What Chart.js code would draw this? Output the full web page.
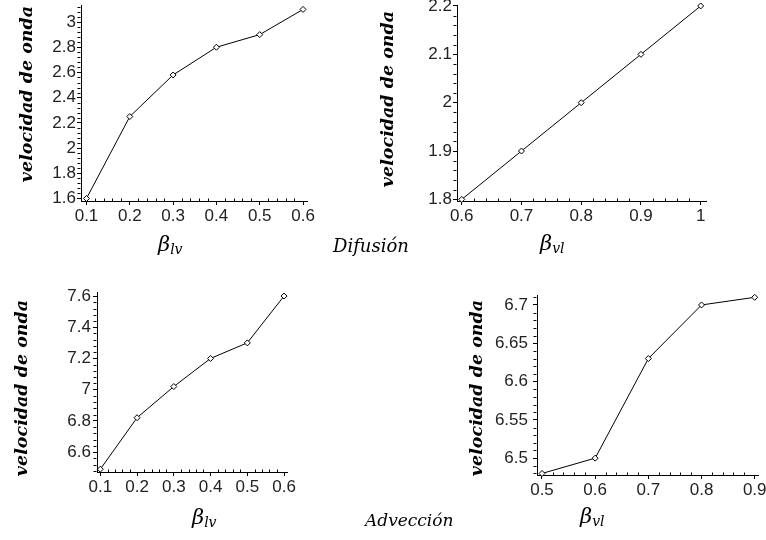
<!DOCTYPE html>
<html>
<head>
<meta charset="utf-8">
<script src="https://cdn.jsdelivr.net/npm/chart.js@4/dist/chart.umd.min.js"></script>
<style>
  html, body { margin: 0; padding: 0; background: #fff; }
  #page { position: relative; width: 766px; height: 540px; overflow: hidden; background: #fff; }
  #page canvas { position: absolute; left: 0; top: 0; }
</style>
</head>
<body>
<div id="page">
  <canvas id="difLv" width="766" height="540"></canvas>
  <canvas id="difVl" width="766" height="540"></canvas>
  <canvas id="advLv" width="766" height="540"></canvas>
  <canvas id="advVl" width="766" height="540"></canvas>
</div>
<script>
// ---- data: wave speed versus the beta parameters ----
const betaLv    = [0.1, 0.2, 0.3, 0.4, 0.5, 0.6];
const betaVlDif = [0.6, 0.7, 0.8, 0.9, 1.0];
const betaVlAdv = [0.5, 0.6, 0.7, 0.8, 0.9];

const velDifLv = [1.6, 2.25, 2.58, 2.8, 2.9, 3.1];
const velDifVl = [1.8, 1.9, 2.0, 2.1, 2.2];
const velAdvLv = [6.49, 6.82, 7.02, 7.2, 7.3, 7.6];
const velAdvVl = [6.48, 6.5, 6.63, 6.7, 6.71];

// ---- tick labels ----
const xTicksLv    = [0.1, 0.2, 0.3, 0.4, 0.5, 0.6];
const xTicksVlDif = [0.6, 0.7, 0.8, 0.9, 1];
const xTicksVlAdv = [0.5, 0.6, 0.7, 0.8, 0.9];
const yTicksDifLv = [1.6, 1.8, 2, 2.2, 2.4, 2.6, 2.8, 3];
const yTicksDifVl = [1.8, 1.9, 2, 2.1, 2.2];
const yTicksAdvLv = [6.6, 6.8, 7, 7.2, 7.4, 7.6];
const yTicksAdvVl = [6.5, 6.55, 6.6, 6.65, 6.7];

// ---- text ----
const yTitle = 'velocidad de onda';
const captionDif = 'Difusión';
const captionAdv = 'Advección';

const TICK_FONT = { family: '"Liberation Sans Narrow", "Liberation Sans", Arial, sans-serif', size: 17 };
const TICK_COLOR = '#222';
const SERIF = '"DejaVu Serif", "Liberation Serif", serif';

// short unlabelled marks between the labelled ticks
const minorTicks = {
  id: 'minorTicks',
  afterDraw(chart, args, opts) {
    const {ctx, scales: {x, y}, chartArea: a} = chart;
    ctx.save();
    ctx.strokeStyle = '#000';
    ctx.lineWidth = 1;
    ctx.beginPath();
    const each = (scale, step, major, fn) => {
      const start = Math.ceil(scale.min / step - 1e-9);
      for (let k = start; k * step <= scale.max + 1e-9; k++) {
        const v = k * step;
        const r = v / major;
        if (Math.abs(r - Math.round(r)) < 1e-6) continue;
        fn(Math.round(scale.getPixelForValue(v)));
      }
    };
    const xa = Math.round(a.left) - 0.5;
    const ya = Math.round(a.bottom) + 0.5;
    each(x, opts.x, opts.xMajor, px => { ctx.moveTo(px + 0.5, ya); ctx.lineTo(px + 0.5, ya - 3); });
    each(y, opts.y, opts.yMajor, py => { ctx.moveTo(xa, py + 0.5); ctx.lineTo(xa - 3, py + 0.5); });
    ctx.stroke();
    ctx.restore();
  }
};

// axis titles and captions placed around each panel
const panelText = {
  id: 'panelText',
  afterDraw(chart, args, o) {
    const ctx = chart.ctx;
    ctx.save();
    ctx.fillStyle = '#000';
    // vertical title
    ctx.save();
    ctx.translate(o.yTitle.x, o.yTitle.y);
    ctx.rotate(-Math.PI / 2);
    ctx.font = 'italic bold 17.5px ' + SERIF;
    ctx.textAlign = 'center';
    ctx.textBaseline = 'alphabetic';
    ctx.fillText(yTitle, 0, 0);
    ctx.restore();
    // beta label with subscript
    ctx.textAlign = 'left';
    ctx.textBaseline = 'alphabetic';
    ctx.font = 'italic 21px ' + SERIF;
    ctx.fillText('β', o.xTitle.x, o.xTitle.y);
    const w = ctx.measureText('β').width;
    ctx.font = 'italic 14px ' + SERIF;
    ctx.fillText(o.xTitle.sub, o.xTitle.x + w, o.xTitle.y + 3);
    if (o.caption) {
      ctx.font = 'italic ' + o.caption.size + 'px ' + SERIF;
      ctx.fillText(o.caption.text, o.caption.x, o.caption.y);
    }
    ctx.restore();
  }
};

function makePanel(id, xs, ys, xTicks, yTicks, p) {
  const W = 60, H = 30;
  const fmt = v => String(v);
  new Chart(document.getElementById(id), {
    type: 'line',
    data: {
      labels: xs,
      datasets: [{
        data: xs.map((x, i) => ({x, y: ys[i]})),
        borderColor: '#000',
        borderWidth: 1,
        tension: 0,
        fill: false,
        clip: false,
        pointStyle: 'rectRot',
        pointRadius: 3,
        pointBackgroundColor: '#fff',
        pointBorderColor: '#000',
        pointBorderWidth: 1
      }]
    },
    options: {
      responsive: false,
      animation: false,
      events: [],
      layout: {
        padding: {
          left: p.area.l - W,
          top: p.area.t,
          right: 766 - p.area.r,
          bottom: 540 - p.area.b - H
        }
      },
      plugins: {
        legend: { display: false },
        tooltip: { enabled: false },
        minorTicks: p.minor,
        panelText: p.text
      },
      scales: {
        x: {
          type: 'linear',
          min: p.xr[0], max: p.xr[1],
          afterBuildTicks: s => { s.ticks = xTicks.map(v => ({value: v})); },
          afterFit: s => { s.height = H; s.paddingLeft = 0; s.paddingRight = 0; },
          ticks: { callback: fmt, autoSkip: false, maxRotation: 0, font: TICK_FONT, color: TICK_COLOR, padding: 1 },
          grid: { display: true, drawOnChartArea: false, drawTicks: true, tickLength: 4, color: '#000', lineWidth: 1 },
          border: { display: true, color: '#000', width: 1 }
        },
        y: {
          type: 'linear',
          min: p.yr[0], max: p.yr[1],
          afterBuildTicks: s => { s.ticks = yTicks.map(v => ({value: v})); },
          afterFit: s => { s.width = W; s.paddingTop = 0; s.paddingBottom = 0; },
          ticks: { callback: fmt, autoSkip: false, font: TICK_FONT, color: TICK_COLOR, padding: p.yPad },
          grid: { display: true, drawOnChartArea: false, drawTicks: true, tickLength: 4, color: '#000', lineWidth: 1 },
          border: { display: true, color: '#000', width: 1 }
        }
      }
    },
    plugins: [minorTicks, panelText]
  });
}

// Difusión, beta_lv
makePanel('difLv', betaLv, velDifLv, xTicksLv, yTicksDifLv, {
  area: { l: 81, t: 5, r: 307, b: 201 },
  xr: [0.0873, 0.6092], yr: [1.58, 3.135], yPad: 1,
  minor: { x: 0.02, xMajor: 0.1, y: 0.04, yMajor: 0.2 },
  text: {
    yTitle: { x: 32, y: 94 },
    xTitle: { x: 158, y: 251, sub: 'lv' },
    caption: { text: captionDif, x: 333, y: 252, size: 18 }
  }
});

// Difusión, beta_vl
makePanel('difVl', betaVlDif, velDifVl, xTicksVlDif, yTicksDifVl, {
  area: { l: 457, t: 5, r: 706, b: 201 },
  xr: [0.5921, 1.0089], yr: [1.7967, 2.202], yPad: 1,
  minor: { x: 0.02, xMajor: 0.1, y: 0.02, yMajor: 0.1 },
  text: {
    yTitle: { x: 393, y: 99 },
    xTitle: { x: 540, y: 250, sub: 'vl' }
  }
});

// Advección, beta_lv
makePanel('advLv', betaLv, velAdvLv, xTicksLv, yTicksAdvLv, {
  area: { l: 97, t: 292, r: 287, b: 472 },
  xr: [0.091, 0.608], yr: [6.472, 7.626], yPad: 2,
  minor: { x: 0.02, xMajor: 0.1, y: 0.04, yMajor: 0.2 },
  text: {
    yTitle: { x: 27, y: 388 },
    xTitle: { x: 192, y: 524, sub: 'lv' },
    caption: { text: captionAdv, x: 365, y: 526, size: 17 }
  }
});

// Advección, beta_vl
makePanel('advVl', betaVlAdv, velAdvVl, xTicksVlAdv, yTicksAdvVl, {
  area: { l: 537, t: 295, r: 758, b: 475 },
  xr: [0.4906, 0.9062], yr: [6.478, 6.713], yPad: 5,
  minor: { x: 0.02, xMajor: 0.1, y: 0.01, yMajor: 0.05 },
  text: {
    yTitle: { x: 482, y: 388 },
    xTitle: { x: 580, y: 523, sub: 'vl' }
  }
});
</script>
</body>
</html>
